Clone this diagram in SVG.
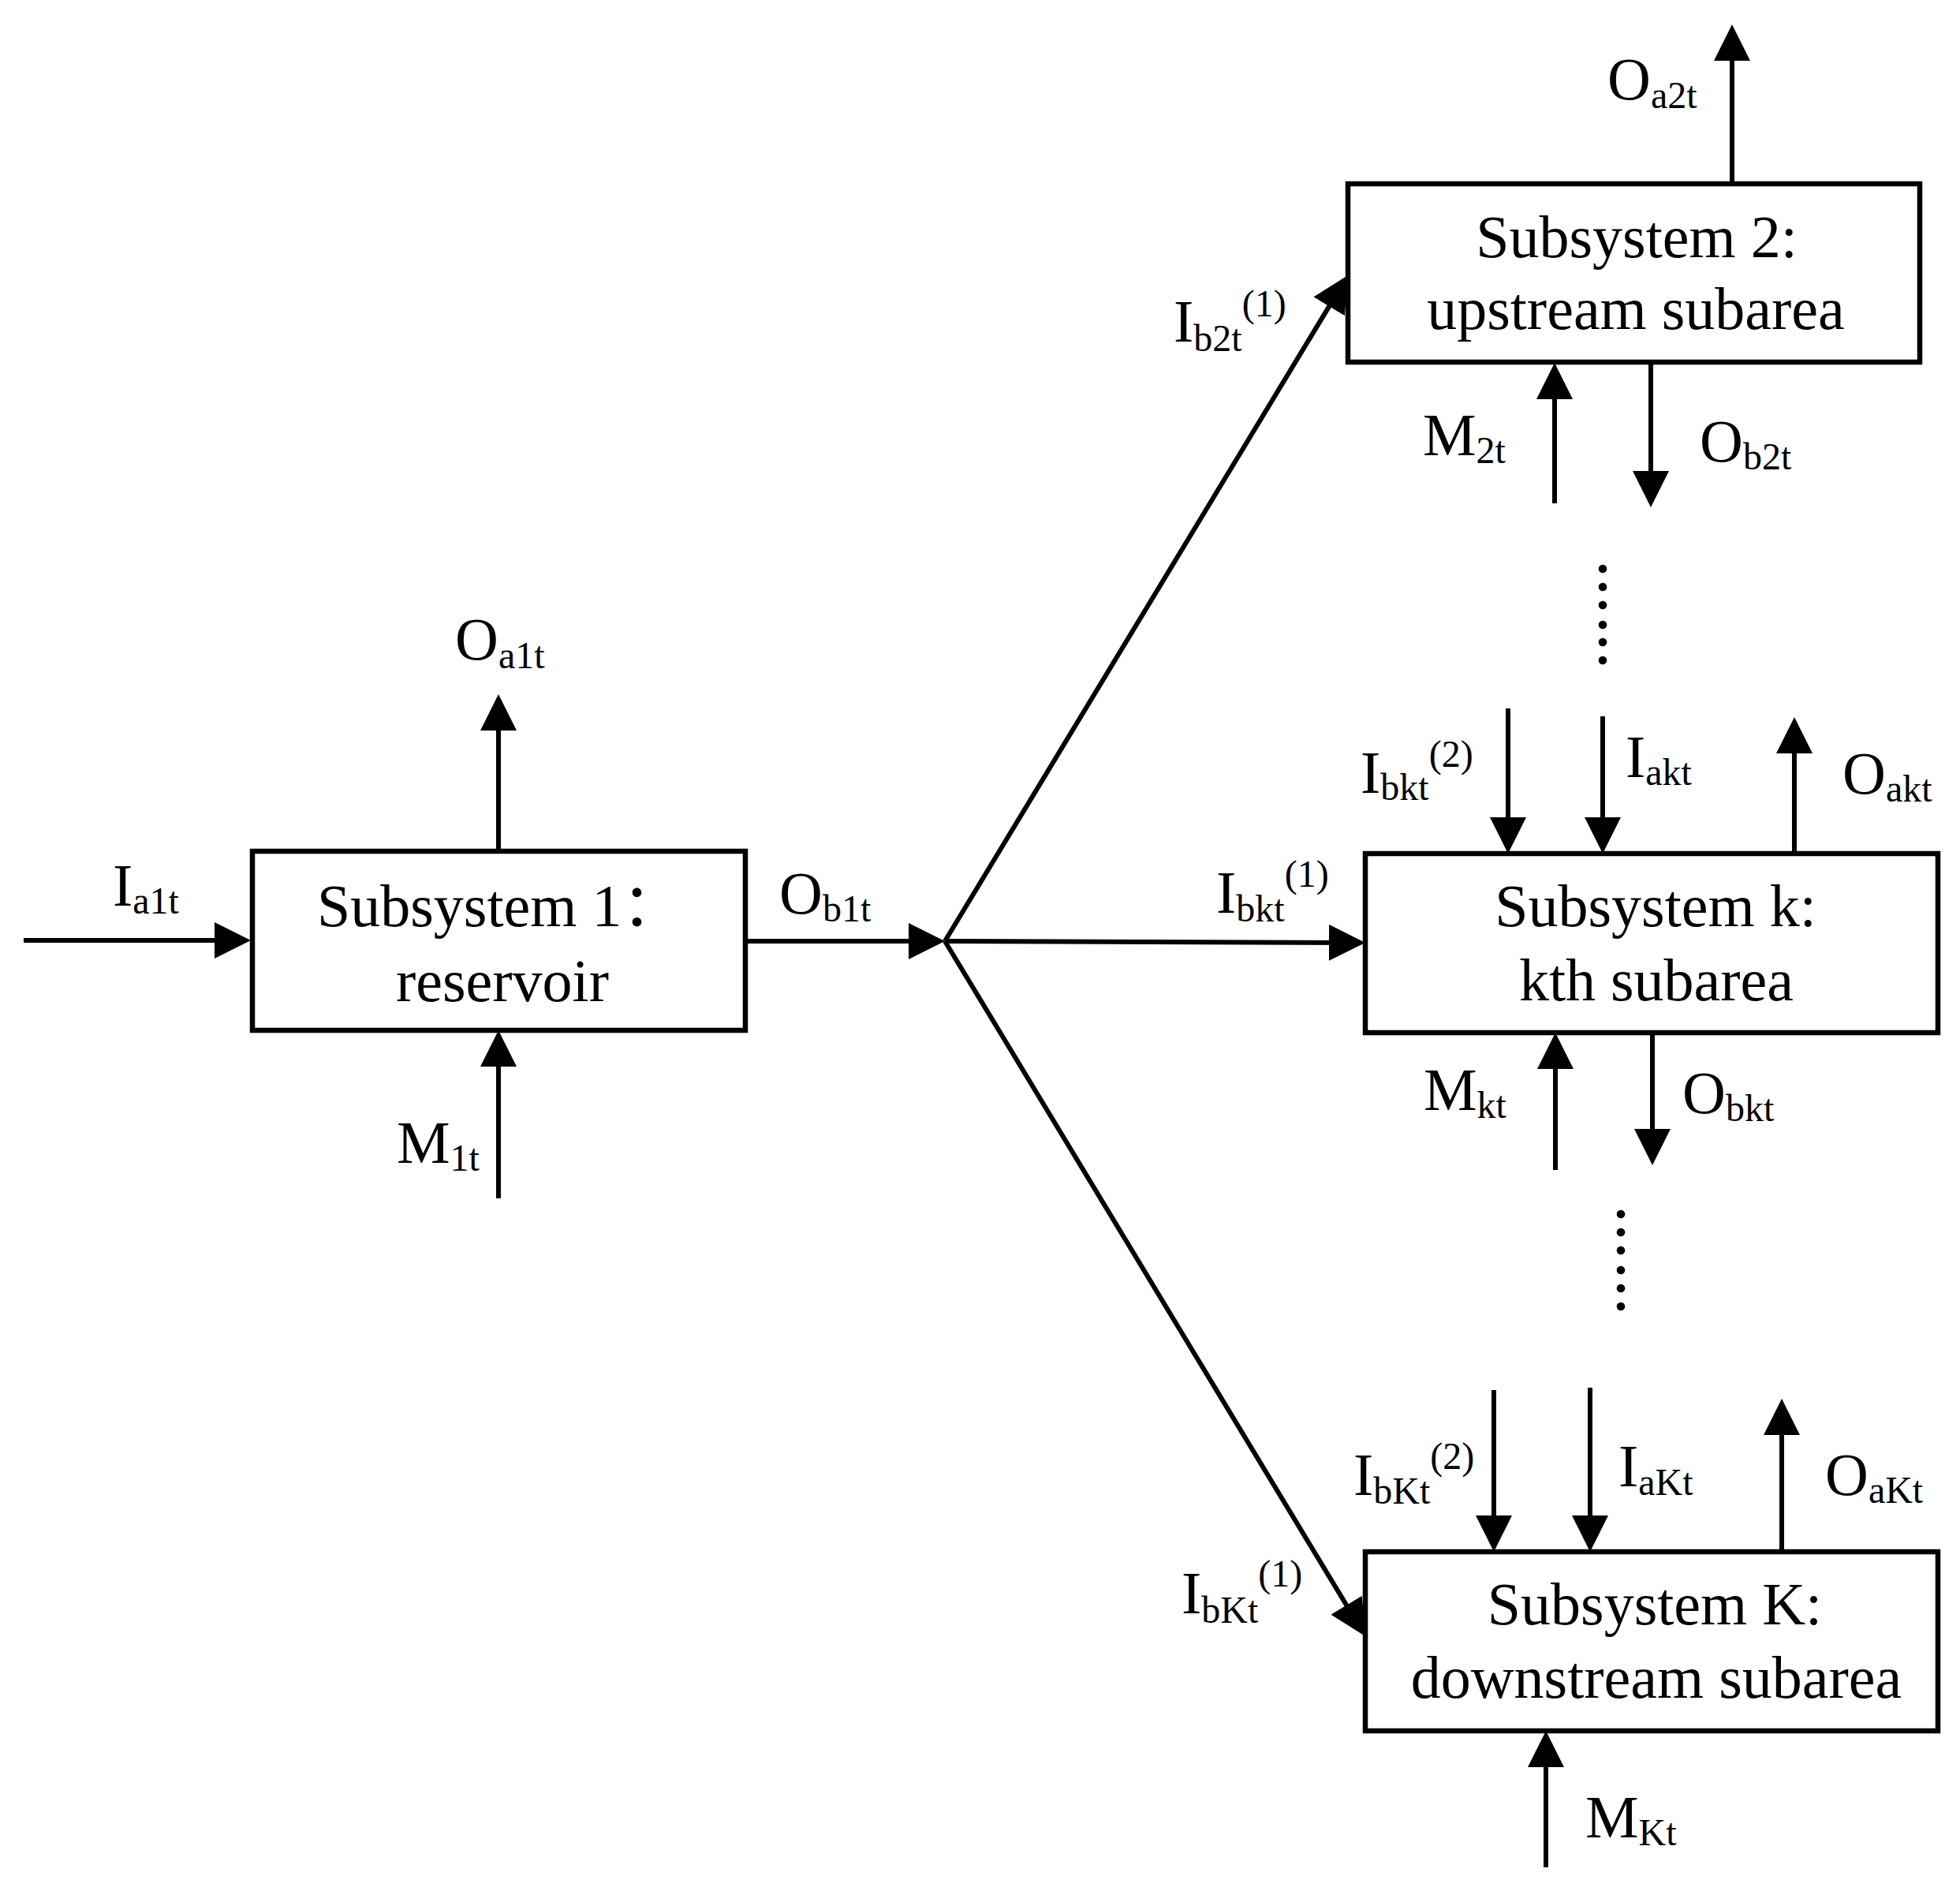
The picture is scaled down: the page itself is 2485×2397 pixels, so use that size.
<svg xmlns="http://www.w3.org/2000/svg" width="2485" height="2397" viewBox="0 0 2485 2397">
<style>
.box{fill:#fff;stroke:#000;stroke-width:6.5;stroke-linejoin:miter}
.ln{fill:none;stroke:#000;stroke-width:6;marker-end:url(#ah)}
.bt{font-family:"Liberation Serif","Noto Sans CJK SC",serif;font-size:76px;fill:#000}
.lb{font-family:"Liberation Serif","Times New Roman",serif;font-size:76px;fill:#000}
.s{font-size:48px}
.dot{fill:#000}
</style>
<defs>
<marker id="ah" viewBox="0 0 46 46" refX="26" refY="23" markerWidth="46" markerHeight="46" markerUnits="userSpaceOnUse" orient="auto">
<path d="M0,0 L46,23 L0,46 Z" fill="#000"/>
</marker>
</defs>
<rect width="2485" height="2397" fill="#fff"/>
<g id="connectors">
<line class="ln" x1="30" y1="1192" x2="298" y2="1192"/>
<line class="ln" x1="945" y1="1193" x2="1178" y2="1193"/>
<line class="ln" x1="1198" y1="1193" x2="1698.6" y2="366.1"/>
<line class="ln" x1="1198" y1="1193" x2="1711" y2="1195"/>
<line class="ln" x1="1198" y1="1193" x2="1720.6" y2="2056.9"/>
<line class="ln" x1="632" y1="1079" x2="632" y2="900"/>
<line class="ln" x1="632" y1="1519" x2="632" y2="1326"/>
<line class="ln" x1="2196" y1="233" x2="2196" y2="51"/>
<line class="ln" x1="1971" y1="638" x2="1971" y2="480"/>
<line class="ln" x1="2093" y1="460" x2="2093" y2="623"/>
<line class="ln" x1="1912" y1="898" x2="1912" y2="1062"/>
<line class="ln" x1="2032" y1="908" x2="2032" y2="1062"/>
<line class="ln" x1="2275" y1="1082" x2="2275" y2="929"/>
<line class="ln" x1="1972" y1="1483" x2="1972" y2="1329"/>
<line class="ln" x1="2095" y1="1309" x2="2095" y2="1457"/>
<line class="ln" x1="1894" y1="1762" x2="1894" y2="1947"/>
<line class="ln" x1="2016" y1="1759" x2="2016" y2="1947"/>
<line class="ln" x1="2259" y1="1967" x2="2259" y2="1793"/>
<line class="ln" x1="1960" y1="2367" x2="1960" y2="2214"/>
</g>
<g id="node-1">
<rect class="box" x="320" y="1079" width="625" height="227"/>
<text class="bt" x="402" y="1174">Subsystem 1：</text>
<text class="bt" x="637" y="1269" text-anchor="middle">reservoir</text>
</g>
<g id="node-2">
<rect class="box" x="1709" y="233" width="725" height="226"/>
<text class="bt" x="2075" y="326" text-anchor="middle">Subsystem 2:</text>
<text class="bt" x="2074" y="417" text-anchor="middle">upstream subarea</text>
</g>
<g id="node-k">
<rect class="box" x="1731" y="1082" width="726" height="227"/>
<text class="bt" x="2099" y="1174" text-anchor="middle">Subsystem k:</text>
<text class="bt" x="2100" y="1268" text-anchor="middle">kth subarea</text>
</g>
<g id="node-K">
<rect class="box" x="1731" y="1967" width="726" height="227"/>
<text class="bt" x="2098" y="2059" text-anchor="middle">Subsystem K:</text>
<text class="bt" x="2100" y="2152" text-anchor="middle">downstream subarea</text>
</g>
<g id="labels">
<text class="lb" x="143" y="1148">I<tspan class="s" dy="10">a1t</tspan></text>
<text class="lb" x="988" y="1158">O<tspan class="s" dy="10">b1t</tspan></text>
<text class="lb" x="577" y="836">O<tspan class="s" dy="11">a1t</tspan></text>
<text class="lb" x="503" y="1474">M<tspan class="s" dy="10">1t</tspan></text>
<text class="lb" x="2038" y="126">O<tspan class="s" dy="11">a2t</tspan></text>
<text class="lb" x="1804" y="577">M<tspan class="s" dy="10">2t</tspan></text>
<text class="lb" x="2155" y="585">O<tspan class="s" dy="10">b2t</tspan></text>
<text class="lb" x="1488" y="433">I<tspan class="s" dy="12">b2t</tspan><tspan class="s" dy="-44">(1)</tspan></text>
<text class="lb" x="1725" y="1005">I<tspan class="s" dy="9">bkt</tspan><tspan class="s" dy="-42">(2)</tspan></text>
<text class="lb" x="2061" y="985">I<tspan class="s" dy="10">akt</tspan></text>
<text class="lb" x="2336" y="1006">O<tspan class="s" dy="10">akt</tspan></text>
<text class="lb" x="1542" y="1157">I<tspan class="s" dy="11">bkt</tspan><tspan class="s" dy="-44">(1)</tspan></text>
<text class="lb" x="1805" y="1407">M<tspan class="s" dy="10">kt</tspan></text>
<text class="lb" x="2133" y="1411">O<tspan class="s" dy="10">bkt</tspan></text>
<text class="lb" x="1716" y="1895">I<tspan class="s" dy="11">bKt</tspan><tspan class="s" dy="-44">(2)</tspan></text>
<text class="lb" x="2052" y="1884">I<tspan class="s" dy="11">aKt</tspan></text>
<text class="lb" x="2314" y="1895">O<tspan class="s" dy="10">aKt</tspan></text>
<text class="lb" x="1498" y="2045">I<tspan class="s" dy="12">bKt</tspan><tspan class="s" dy="-46">(1)</tspan></text>
<text class="lb" x="2010" y="2329">M<tspan class="s" dy="10">Kt</tspan></text>
</g>
<g id="dots1">
<circle class="dot" cx="2032" cy="721" r="5.3"/>
<circle class="dot" cx="2032" cy="744" r="5.3"/>
<circle class="dot" cx="2032" cy="767" r="5.3"/>
<circle class="dot" cx="2032" cy="792" r="5.3"/>
<circle class="dot" cx="2032" cy="814" r="5.3"/>
<circle class="dot" cx="2032" cy="837" r="5.3"/>
</g>
<g id="dots2">
<circle class="dot" cx="2055" cy="1539" r="5.3"/>
<circle class="dot" cx="2055" cy="1562" r="5.3"/>
<circle class="dot" cx="2055" cy="1585" r="5.3"/>
<circle class="dot" cx="2055" cy="1610" r="5.3"/>
<circle class="dot" cx="2055" cy="1633" r="5.3"/>
<circle class="dot" cx="2055" cy="1656" r="5.3"/>
</g>
</svg>
